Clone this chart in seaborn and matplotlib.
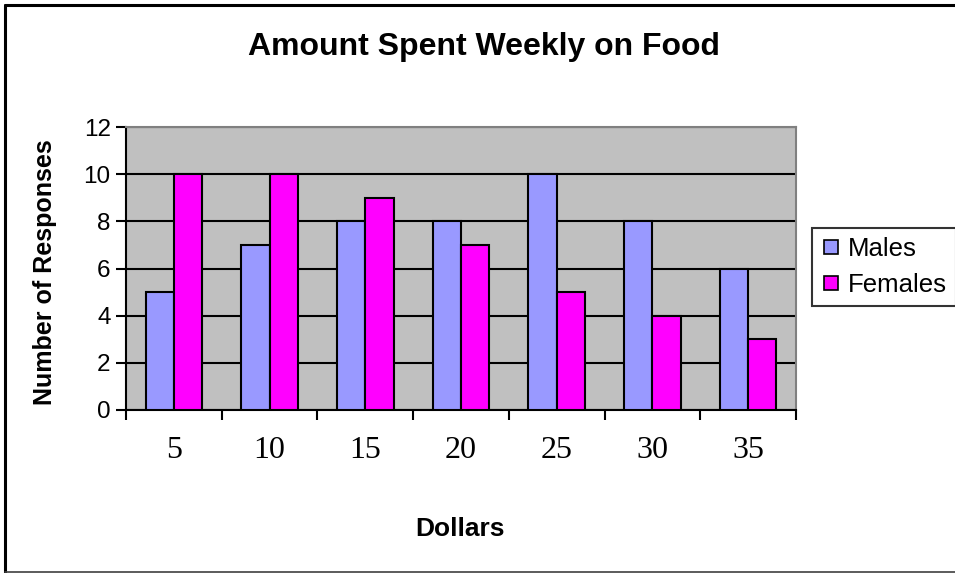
import matplotlib
matplotlib.use("Agg")
import matplotlib.pyplot as plt
from matplotlib.lines import Line2D
import seaborn as sns
import pandas as pd

# Weekly food spending survey
dollars = ["5", "10", "15", "20", "25", "30", "35"]
males = [5, 7, 8, 8, 10, 8, 6]
females = [10, 10, 9, 7, 5, 4, 3]
series_names = ["Males", "Females"]
y_ticks = [0, 2, 4, 6, 8, 10, 12]

df = pd.DataFrame({
    "Dollars": dollars * 2,
    "Responses": males + females,
    "Group": [series_names[0]] * len(dollars) + [series_names[1]] * len(dollars),
})

sns.set_theme(style="white")
plt.rcParams["font.family"] = ["Liberation Sans", "DejaVu Sans"]
plt.rcParams["text.color"] = "black"
plt.rcParams["axes.labelcolor"] = "black"
plt.rcParams["xtick.color"] = "black"
plt.rcParams["ytick.color"] = "black"

W, H = 955, 573
fig = plt.figure(figsize=(W / 100, H / 100), dpi=100)
ax = fig.add_axes([126 / W, 1 - 410 / H, 670 / W, 283 / H])
ax.set_facecolor("#C0C0C0")

palette = {"Males": "#9999FF", "Females": "#FF00FF"}
sns.barplot(data=df, x="Dollars", y="Responses", hue="Group", order=dollars,
            hue_order=series_names, palette=palette, width=0.59,
            edgecolor="black", linewidth=1.5, saturation=1, ax=ax, zorder=3)

ax.set_xlim(-0.5, len(dollars) - 0.5)
ax.set_ylim(0, 12)
ax.set_yticks(y_ticks)
ax.set_yticklabels([str(t) for t in y_ticks], fontsize=17.5, color="black")
ax.yaxis.grid(True, color="black", linewidth=1.5, zorder=1)
ax.set_axisbelow(True)
ax.tick_params(axis="y", direction="out", length=7, width=1.5, color="black",
               left=True, pad=4)

# Category labels centred, tick marks at category boundaries
ax.set_xticks(range(len(dollars)))
ax.set_xticklabels(dollars, fontsize=23, color="black",
                   family=["Liberation Serif", "DejaVu Serif"])
ax.tick_params(axis="x", which="major", length=0, pad=19)
ax.set_xticks([i - 0.5 for i in range(len(dollars) + 1)], minor=True)
ax.tick_params(axis="x", which="minor", direction="out", length=7, width=1.5,
               color="black", bottom=True)

for side in ("left", "bottom"):
    ax.spines[side].set_color("black")
    ax.spines[side].set_linewidth(1.5)
for side in ("top", "right"):
    ax.spines[side].set_color("#808080")
    ax.spines[side].set_linewidth(1.5)

ax.set_xlabel("")
ax.set_ylabel("")
fig.text(45 / W, 1 - 272 / H, "Number of Responses", fontsize=18, fontweight="bold",
         rotation=90, ha="center", va="center", color="black")
fig.text(460 / W, 1 - 529 / H, "Dollars", fontsize=19, fontweight="bold",
         ha="center", va="center", color="black")
fig.text(484 / W, 1 - 47 / H, "Amount Spent Weekly on Food", fontsize=23,
         fontweight="bold", ha="center", va="center", color="black")

# Legend
if ax.get_legend() is not None:
    ax.get_legend().remove()
handles = [Line2D([0], [0], marker="s", linestyle="none", markersize=10.5,
                  markerfacecolor=palette[n], markeredgecolor="black",
                  markeredgewidth=1.2) for n in series_names]
leg = fig.legend(handles, series_names, loc="center", bbox_to_anchor=(884 / W, 1 - 267 / H),
                 fontsize=18.5, frameon=True, fancybox=False, handlelength=0.8,
                 handletextpad=0.25, borderpad=0.35, labelspacing=0.45, borderaxespad=0)
leg.get_frame().set_edgecolor("black")
leg.get_frame().set_linewidth(1.5)
for t in leg.get_texts():
    t.set_color("black")

# Outer chart border
fig.add_artist(Line2D([4.5 / W, 4.5 / W], [1 - 4.5 / H, 1 - 572 / H], color="black",
                      linewidth=2.2, transform=fig.transFigure))
fig.add_artist(Line2D([4.5 / W, 1], [1 - 4.5 / H, 1 - 4.5 / H], color="black",
                      linewidth=2.2, transform=fig.transFigure))
fig.add_artist(Line2D([4.5 / W, 1], [1 - 572 / H, 1 - 572 / H], color="#404040",
                      linewidth=1.2, transform=fig.transFigure))

fig.savefig("out.png", dpi=100)
